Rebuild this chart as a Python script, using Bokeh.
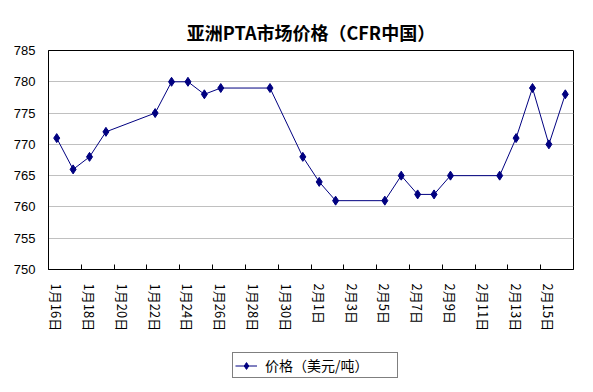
from datetime import date
from bokeh.plotting import figure
from bokeh.layouts import column
from bokeh.models import FixedTicker, Legend, Range1d
from bokeh.embed import file_html
from bokeh.resources import INLINE

# ---- data ----
dates = ["01-16", "01-17", "01-18", "01-19", "01-22", "01-23", "01-24", "01-25",
         "01-26", "01-29", "01-31", "02-01", "02-02", "02-05", "02-06", "02-07",
         "02-08", "02-09", "02-12", "02-13", "02-14", "02-15", "02-16"]
prices = [771, 766, 768, 772, 775, 780, 780, 778, 779, 779, 768, 764, 761, 761,
          765, 762, 762, 765, 765, 771, 779, 770, 778]
tick_labels = ["1月16日", "1月18日", "1月20日", "1月22日", "1月24日", "1月26日",
               "1月28日", "1月30日", "2月1日", "2月3日", "2月5日", "2月7日",
               "2月9日", "2月11日", "2月13日", "2月15日"]
y_ticks = [750, 755, 760, 765, 770, 775, 780, 785]
title_text = "亚洲PTA市场价格（CFR中国）"
legend_text = "价格（美元/吨）"

YEAR = 2007
start = date(YEAR, 1, 16)


def day_index(s):
    m, d = s.split("-")
    return (date(YEAR, int(m), int(d)) - start).days


xs = [day_index(d) for d in dates]
label_pos = [2 * i for i in range(len(tick_labels))]
minor_pos = [q + 1.5 for q in label_pos[:-1]]
n_days = label_pos[-1] + 2

navy = "#000080"
W = 585

p = figure(width=W, height=345, output_backend="svg", toolbar_location=None,
           x_range=Range1d(-0.5, n_days - 0.5), y_range=Range1d(y_ticks[0], y_ticks[-1]),
           min_border_left=48, min_border_right=12, min_border_top=50,
           min_border_bottom=76)
p.background_fill_color = "white"
p.border_fill_color = "white"
p.outline_line_color = "black"
p.outline_line_width = 1
p.outline_line_alpha = 1

# title
p.title.text = title_text
p.title.align = "center"
p.title.vertical_align = "middle"
p.title.text_font = "Noto Sans CJK SC"
p.title.text_font_style = "bold"
p.title.text_font_size = "18px"
p.title.text_color = "black"
p.title.standoff = 10

# x axis
p.xaxis.ticker = FixedTicker(ticks=label_pos, minor_ticks=minor_pos)
p.xaxis.major_label_overrides = {pos: lab for pos, lab in zip(label_pos, tick_labels)}
p.xaxis.major_label_orientation = "vertical"
p.xaxis.major_label_text_font = "Noto Sans CJK SC"
p.xaxis.major_label_text_font_size = "13px"
p.xaxis.major_label_text_color = "black"
p.xaxis.major_label_standoff = 14
p.xaxis.major_tick_in = 0
p.xaxis.major_tick_out = 0
p.xaxis.minor_tick_in = 5
p.xaxis.minor_tick_out = 0
p.xaxis.minor_tick_line_color = "black"
p.xaxis.axis_line_color = "black"

# y axis
p.yaxis.ticker = FixedTicker(ticks=y_ticks)
p.yaxis.major_label_text_font = "Liberation Sans"
p.yaxis.major_label_text_font_size = "13px"
p.yaxis.major_label_text_color = "black"
p.yaxis.major_label_standoff = 13
p.yaxis.major_tick_in = 0
p.yaxis.major_tick_out = 0
p.yaxis.minor_tick_line_color = None
p.yaxis.axis_line_color = "black"

p.xgrid.grid_line_color = None
p.ygrid.ticker = FixedTicker(ticks=y_ticks)
p.ygrid.grid_line_color = "#c0c0c0"
p.ygrid.grid_line_width = 1

r_line = p.line(xs, prices, line_color=navy, line_width=1)
r_pts = p.scatter(xs, prices, marker="diamond", size=9, fill_color=navy,
                  line_color=navy)

# ---- legend strip below the chart (its frame is aligned with the chart's) ----
lg = figure(width=W, height=47, output_backend="svg", toolbar_location=None,
            x_range=Range1d(0, 1), y_range=Range1d(0, 1),
            x_axis_type=None, y_axis_type=None,
            min_border_left=48, min_border_right=12, min_border_top=0,
            min_border_bottom=0)
lg.outline_line_color = None
lg.grid.grid_line_color = None
lg.background_fill_color = "white"
lg.border_fill_color = "white"
# same series; it lies outside this strip's ranges, only its legend swatch shows
lg_line = lg.line(xs, prices, line_color=navy, line_width=1)
lg_pts = lg.scatter(xs, prices, marker="diamond", size=7, fill_color=navy,
                    line_color=navy)

legend = Legend(items=[(legend_text, [lg_line, lg_pts])], location=(184, 14),
                orientation="horizontal")
legend.label_text_font = "Noto Sans CJK SC"
legend.label_text_font_size = "14px"
legend.label_text_color = "black"
legend.border_line_color = "black"
legend.border_line_width = 1
legend.background_fill_color = "white"
legend.padding = 2
legend.margin = 0
legend.spacing = 0
legend.glyph_width = 22
legend.label_standoff = 8
legend.label_width = 130
legend.label_height = 17
legend.glyph_height = 17
lg.add_layout(legend, "center")

layout = column(p, lg, spacing=0)
open("out.html", "w").write(file_html(layout, INLINE))
